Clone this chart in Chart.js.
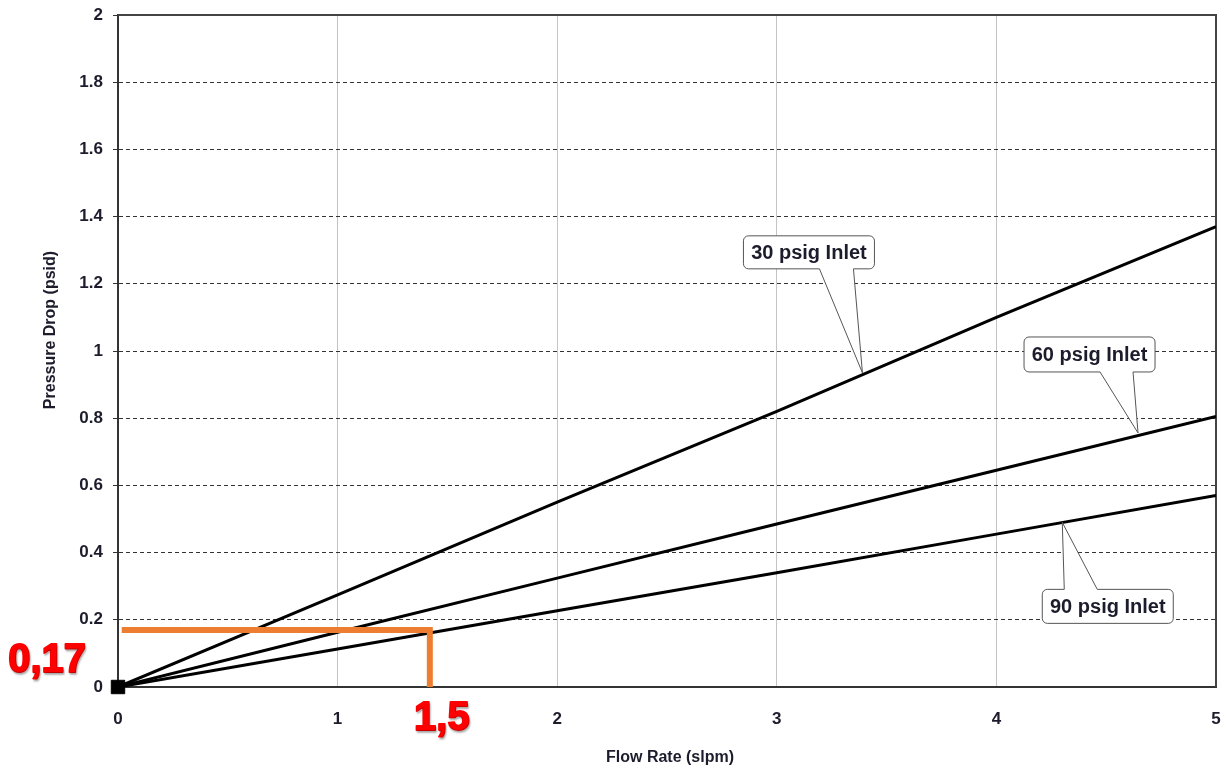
<!DOCTYPE html>
<html>
<head>
<meta charset="utf-8">
<script src="https://cdn.jsdelivr.net/npm/chart.js@4.4.1/dist/chart.umd.min.js"></script>
<style>
    html, body { margin: 0; padding: 0; background: #fff; }
    #wrap { width: 1231px; height: 769px; position: relative; }
</style>
</head>
<body>
<div id="wrap"><canvas id="grafico"></canvas></div>
<script>
// dados
const fluxo = [0, 1, 2, 3, 4, 5];
const queda30 = [0, 0.274, 0.55, 0.82, 1.10, 1.37];
const queda60 = [0, 0.163, 0.324, 0.485, 0.645, 0.805];
const queda90 = [0, 0.113, 0.227, 0.34, 0.455, 0.57];
const ticksX = [0, 1, 2, 3, 4, 5];
const ticksY = [0, 0.2, 0.4, 0.6, 0.8, 1, 1.2, 1.4, 1.6, 1.8, 2];

// leitura marcada em laranja
const leituraX = [0.017, 1.42, 1.42];
const leituraY = [0.17, 0.17, 0];
const textoLeituraY = '0,17';
const textoLeituraX = '1,5';

// rótulos das curvas e o ponto (x, y) para onde apontam
const rotulos = ['30 psig Inlet', '60 psig Inlet', '90 psig Inlet'];
const pontaX = [3.39, 4.645, 4.30];
const pontaY = [0.935, 0.756, 0.49];

const corTexto = '#1c1c2c';

function pontos(xs, ys) {
    return xs.map((x, i) => ({ x: x, y: ys[i] }));
}

// caixa com ponteiro (dx, dy relativos à ponta)
const caixas = [
    { dx: -119, dy: -137, w: 131, h: 33, base: [-43, -9], lado: 'baixo' },
    { dx: -114, dy: -96, w: 131, h: 35, base: [-38, -5], lado: 'baixo' },
    { dx: -20, dy: 67, w: 131, h: 34, base: [2, 35], lado: 'cima' }
];

const extras = {
    id: 'extras',
    beforeDatasetsDraw(chart) {
        const ctx = chart.ctx;
        const a = chart.chartArea;
        // moldura de cima e da direita
        ctx.save();
        ctx.strokeStyle = '#444';
        ctx.lineWidth = 2;
        ctx.beginPath();
        ctx.moveTo(a.left, a.top);
        ctx.lineTo(a.right, a.top);
        ctx.lineTo(a.right, a.bottom);
        ctx.stroke();
        ctx.restore();
    },
    afterDatasetsDraw(chart) {
        const ctx = chart.ctx;
        const a = chart.chartArea;
        const sx = chart.scales.x;
        const sy = chart.scales.y;

        // caixas dos rótulos
        rotulos.forEach((txt, i) => {
            const tx = sx.getPixelForValue(pontaX[i]);
            const ty = sy.getPixelForValue(pontaY[i]);
            const c = caixas[i];
            const l = tx + c.dx, t = ty + c.dy, r = l + c.w, b = t + c.h, rd = 5;
            const b1 = tx + c.base[0], b2 = tx + c.base[1];
            ctx.save();
            ctx.beginPath();
            ctx.moveTo(l + rd, t);
            if (c.lado === 'cima') {
                ctx.lineTo(b1, t);
                ctx.lineTo(tx, ty);
                ctx.lineTo(b2, t);
            }
            ctx.lineTo(r - rd, t);
            ctx.arcTo(r, t, r, t + rd, rd);
            ctx.lineTo(r, b - rd);
            ctx.arcTo(r, b, r - rd, b, rd);
            if (c.lado === 'baixo') {
                ctx.lineTo(b2, b);
                ctx.lineTo(tx, ty);
                ctx.lineTo(b1, b);
            }
            ctx.lineTo(l + rd, b);
            ctx.arcTo(l, b, l, b - rd, rd);
            ctx.lineTo(l, t + rd);
            ctx.arcTo(l, t, l + rd, t, rd);
            ctx.closePath();
            ctx.fillStyle = '#fff';
            ctx.fill();
            ctx.strokeStyle = '#555';
            ctx.lineWidth = 1;
            ctx.stroke();
            ctx.fillStyle = corTexto;
            ctx.font = 'bold 20px "Liberation Sans", Arial, sans-serif';
            ctx.textAlign = 'center';
            ctx.textBaseline = 'middle';
            ctx.fillText(txt, (l + r) / 2, (t + b) / 2 + 1);
            ctx.restore();
        });

        // títulos dos eixos
        ctx.save();
        ctx.fillStyle = corTexto;
        ctx.font = 'bold 16px "Liberation Sans", Arial, sans-serif';
        ctx.textAlign = 'center';
        ctx.textBaseline = 'middle';
        ctx.fillText('Flow Rate (slpm)', 670, 758);
        ctx.translate(51, 330);
        ctx.rotate(-Math.PI / 2);
        ctx.fillText('Pressure Drop (psid)', 0, 0);
        ctx.restore();

        // valores em vermelho
        ctx.save();
        ctx.fillStyle = '#ff0000';
        ctx.strokeStyle = '#ff0000';
        ctx.lineWidth = 1.8;
        ctx.lineJoin = 'round';
        ctx.font = 'bold 40px "Liberation Sans", Arial, sans-serif';
        ctx.textBaseline = 'alphabetic';
        ctx.shadowColor = 'rgba(0,0,0,0.25)';
        ctx.shadowOffsetX = 1;
        ctx.shadowOffsetY = 2;
        ctx.shadowBlur = 2;
        ctx.textAlign = 'right';
        const y1 = sy.getPixelForValue(leituraY[0]) + 42;
        ctx.strokeText(textoLeituraY, a.left - 32, y1);
        ctx.fillText(textoLeituraY, a.left - 32, y1);
        ctx.textAlign = 'center';
        const x2 = sx.getPixelForValue(leituraX[1]) + 12;
        ctx.strokeText(textoLeituraX, x2, a.bottom + 43);
        ctx.fillText(textoLeituraX, x2, a.bottom + 43);
        ctx.restore();
    }
};

const ctx = document.getElementById('grafico').getContext('2d');
const grafico = new Chart(ctx, {
    type: 'scatter',
    data: {
        datasets: [
            {
                label: 'origem',
                data: [{ x: 0, y: 0 }],
                pointStyle: 'rect',
                pointRadius: 9.5,
                backgroundColor: '#000',
                borderColor: '#000',
                clip: false
            },
            {
                label: 'leitura',
                data: pontos(leituraX, leituraY),
                showLine: true,
                borderColor: '#ed7d31',
                borderWidth: 6,
                pointRadius: 0,
                borderJoinStyle: 'miter',
                clip: false
            },
            {
                label: '30 psig Inlet',
                data: pontos(fluxo, queda30),
                showLine: true,
                borderColor: '#000',
                borderWidth: 3,
                pointRadius: 0
            },
            {
                label: '60 psig Inlet',
                data: pontos(fluxo, queda60),
                showLine: true,
                borderColor: '#000',
                borderWidth: 3,
                pointRadius: 0
            },
            {
                label: '90 psig Inlet',
                data: pontos(fluxo, queda90),
                showLine: true,
                borderColor: '#000',
                borderWidth: 3,
                pointRadius: 0
            }
        ]
    },
    options: {
        responsive: true,
        maintainAspectRatio: false,
        animation: false,
        events: [],
        layout: { padding: { left: 0, right: 15, top: 15, bottom: 0 } },
        plugins: {
            legend: { display: false },
            tooltip: { enabled: false }
        },
        scales: {
            x: {
                type: 'linear',
                min: 0,
                max: 5,
                afterFit(scale) {
                    scale.height = 82;
                    scale.paddingLeft = 0;
                    scale.paddingRight = 0;
                },
                afterBuildTicks(scale) { scale.ticks = ticksX.map(v => ({ value: v })); },
                grid: {
                    color: (c) => (c.tick.value === 0 || c.tick.value === 5) ? 'rgba(0,0,0,0)' : '#c4c4c4',
                    lineWidth: 1,
                    drawTicks: false
                },
                border: { color: '#333', width: 2 },
                ticks: {
                    padding: 22,
                    color: corTexto,
                    font: { family: '"Liberation Sans", Arial, sans-serif', size: 17, weight: 'bold' },
                    callback: (v) => String(v)
                }
            },
            y: {
                type: 'linear',
                min: 0,
                max: 2,
                afterFit(scale) {
                    scale.width = 118;
                    scale.paddingTop = 0;
                    scale.paddingBottom = 0;
                },
                afterBuildTicks(scale) { scale.ticks = ticksY.map(v => ({ value: v })); },
                grid: {
                    color: (c) => (c.tick.value === 0 || c.tick.value === 2) ? 'rgba(0,0,0,0)' : '#333',
                    lineWidth: 1,
                    tickColor: '#333',
                    tickLength: 5,
                    tickBorderDash: [],
                    tickWidth: 1
                },
                border: { color: '#333', width: 2, dash: [4, 3] },
                ticks: {
                    padding: 10,
                    color: corTexto,
                    font: { family: '"Liberation Sans", Arial, sans-serif', size: 17, weight: 'bold' },
                    callback: (v) => String(Math.round(v * 10) / 10)
                }
            }
        }
    },
    plugins: [extras]
});
</script>
</body>
</html>
